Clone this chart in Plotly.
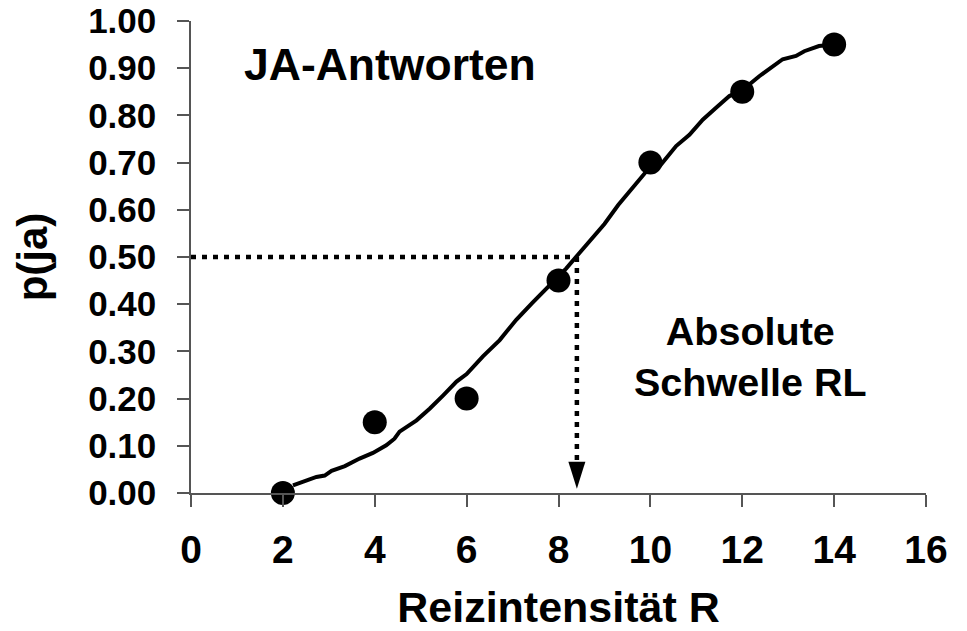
import plotly.graph_objects as go

FONT = "Arial, Liberation Sans, sans-serif"
AXIS_COLOR = "#555555"

# measured proportions of "yes" answers
stim_x = [2, 4, 6, 8, 10, 12, 14]
p_yes = [0.00, 0.15, 0.20, 0.45, 0.70, 0.85, 0.95]

# fitted psychometric curve
curve_x = [2.22, 2.73, 2.91, 3.06, 3.35, 3.67, 3.96, 4.25, 4.43, 4.54, 4.91, 5.20, 5.49, 5.78,
           6.00, 6.36, 6.72, 7.08, 7.43, 7.77, 8.17, 8.46, 8.71, 9.00, 9.30, 9.60, 9.90, 10.20,
           10.56, 10.85, 11.14, 11.43, 11.72, 12.00, 12.37, 12.88, 13.17, 13.35, 13.67, 14.00]
curve_y = [0.016, 0.034, 0.037, 0.047, 0.057, 0.073, 0.085, 0.101, 0.115, 0.130, 0.154, 0.179, 0.207, 0.236,
           0.252, 0.290, 0.324, 0.367, 0.403, 0.437, 0.476, 0.509, 0.537, 0.570, 0.610, 0.645, 0.680, 0.692,
           0.735, 0.759, 0.791, 0.816, 0.841, 0.853, 0.883, 0.919, 0.926, 0.936, 0.947, 0.950]

# absolute threshold (p = 0.5)
RL = 8.4
P_HALF = 0.5

x_ticks = [0, 2, 4, 6, 8, 10, 12, 14, 16]
y_ticks = [0.0, 0.1, 0.2, 0.3, 0.4, 0.5, 0.6, 0.7, 0.8, 0.9, 1.0]

fig = go.Figure()

fig.add_trace(
    go.Scatter(
        x=curve_x,
        y=curve_y,
        mode="lines",
        line=dict(color="black", width=4),
        hoverinfo="skip",
        showlegend=False,
    )
)
fig.add_trace(
    go.Scatter(
        x=stim_x,
        y=p_yes,
        mode="markers",
        marker=dict(color="black", size=24),
        cliponaxis=False,
        showlegend=False,
    )
)

dotted = dict(color="black", width=4.5, dash="5px,6px")
fig.add_shape(type="line", x0=0, x1=RL, y0=P_HALF, y1=P_HALF, line=dotted)
fig.add_shape(type="line", x0=RL, x1=RL, y0=P_HALF, y1=0.066, line=dotted)
# arrow head
fig.add_shape(
    type="path",
    path=f"M {RL - 0.185},0.066 L {RL + 0.185},0.066 L {RL},0.009 Z",
    fillcolor="black",
    line=dict(color="black", width=0),
)

fig.add_annotation(
    x=1.1, y=0.908, xanchor="left", yanchor="middle",
    text="<b>JA-Antworten</b>", showarrow=False,
    font=dict(family=FONT, size=44.5, color="black"),
)
fig.add_annotation(
    x=12.17, y=0.29, xanchor="center", yanchor="middle",
    text="<b>Absolute<br>Schwelle RL</b>", showarrow=False,
    font=dict(family=FONT, size=39.5, color="black"),
)

fig.update_layout(
    width=967,
    height=631,
    margin=dict(l=191, r=41, t=21, b=138),
    paper_bgcolor="white",
    plot_bgcolor="white",
    font=dict(family=FONT, color="black"),
    showlegend=False,
)
fig.update_xaxes(
    range=[0, 16],
    tickvals=x_ticks,
    ticktext=[str(v) for v in x_ticks],
    ticks="outside",
    ticklen=12,
    tickwidth=1.5,
    tickcolor=AXIS_COLOR,
    showline=True,
    linecolor=AXIS_COLOR,
    linewidth=1.5,
    showgrid=False,
    zeroline=False,
    automargin=False,
    ticklabeloverflow="allow",
    tickfont=dict(family=FONT, size=39, color="black", weight="bold"),
    ticklabelstandoff=9,
    title=dict(text="<b>Reizintensität R</b>", font=dict(family=FONT, size=43, color="black"), standoff=25),
)
fig.update_yaxes(
    range=[0, 1],
    tickvals=y_ticks,
    tickformat=".2f",
    ticks="outside",
    ticklen=12,
    tickwidth=1.5,
    tickcolor=AXIS_COLOR,
    showline=True,
    linecolor=AXIS_COLOR,
    linewidth=1.5,
    showgrid=False,
    zeroline=False,
    automargin=False,
    ticklabeloverflow="allow",
    tickfont=dict(family=FONT, size=35, color="black", weight="bold"),
    ticklabelstandoff=14,
    title=dict(text="<b>p(ja)</b>", font=dict(family=FONT, size=42, color="black"), standoff=27),
)

# drop the default body margin so the figure sits at the window's top-left corner
fig.write_html(
    "out.html",
    config={"displayModeBar": False},
    post_script="document.body.style.margin = '0';",
)
